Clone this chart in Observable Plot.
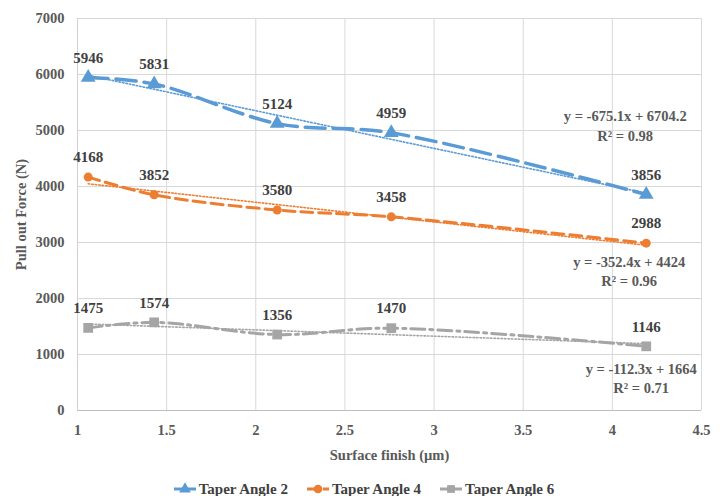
<!DOCTYPE html>
<html>
<head>
<meta charset="utf-8">
<script src="https://cdn.jsdelivr.net/npm/d3@7"></script>
<script src="https://cdn.jsdelivr.net/npm/@observablehq/plot@0.6"></script>
<style>
  html, body { margin: 0; padding: 0; background: #fff; }
  #chart { width: 727px; }
  #legend { display: flex; justify-content: center; gap: 18px; height: 24px; padding-top: 7px; align-items: center;
    font-family: "Liberation Serif", "Times New Roman", serif; font-weight: bold; font-size: 15px; color: #404040; }
  #legend .item { display: flex; align-items: center; gap: 2px; }
</style>
</head>
<body>
<div id="chart"></div>
<div id="legend"></div>
<script>
// ---- data ----
const surfaceFinish = [1.06, 1.43, 2.12, 2.76, 4.19];
const taper2 = [5946, 5831, 5124, 4959, 3856];
const taper4 = [4168, 3852, 3580, 3458, 2988];
const taper6 = [1475, 1574, 1356, 1470, 1146];
const seriesNames = ["Taper Angle 2", "Taper Angle 4", "Taper Angle 6"];
const equations = ["y = -675.1x + 6704.2", "y = -352.4x + 4424", "y = -112.3x + 1664"];
const rSquared = ["R² = 0.98", "R² = 0.96", "R² = 0.71"];
const xTicks = [1, 1.5, 2, 2.5, 3, 3.5, 4, 4.5];
const xTickLabels = ["1", "1.5", "2", "2.5", "3", "3.5", "4", "4.5"];
const yTicks = [0, 1000, 2000, 3000, 4000, 5000, 6000, 7000];

// ---- styles ----
const FONT = '"Liberation Serif", "Times New Roman", serif';
const colors = ["#5b9bd5", "#ed7d31", "#a5a5a5"];
const symbols = ["triangle", "circle", "square"];
const dashes = ["20,8", "12,6", "14,5,3,5"];
const widths = [3.5, 3, 3];
const eqOffsets = [[-21, -78, -58], [-17, 19, 38], [-5, 23, 42]];

const allValues = [taper2, taper4, taper6];
const rows = [];
allValues.forEach((vals, i) => vals.forEach((v, j) => rows.push({ series: seriesNames[i], idx: i, x: surfaceFinish[j], y: v })));

const marks = [
  Plot.gridY(yTicks, { stroke: "#d9d9d9", strokeOpacity: 1, strokeWidth: 1 }),
  Plot.gridX(xTicks, { stroke: "#d9d9d9", strokeOpacity: 1, strokeWidth: 1 }),
  Plot.ruleY([0], { stroke: "#bfbfbf" }),
  Plot.ruleX([1], { stroke: "#d0d0d0" }),
  Plot.axisY(yTicks, { tickSize: 0, tickPadding: 13, tickFormat: d => String(d), fontSize: 14.5, fontWeight: "bold", fill: "#595959", fontFamily: FONT,
    label: "Pull out Force (N)", labelAnchor: "center", labelOffset: 62, labelArrow: "none" }),
  Plot.axisX(xTicks, { tickSize: 0, tickPadding: 14, tickFormat: d => xTickLabels[xTicks.indexOf(d)], fontSize: 14.5, fontWeight: "bold", fill: "#595959", fontFamily: FONT,
    label: "Surface finish (µm)", labelAnchor: "center", labelOffset: 49, labelArrow: "none" })
];

seriesNames.forEach((name, i) => {
  const data = rows.filter(r => r.idx === i);
  const last = data[data.length - 1];
  marks.push(
    Plot.linearRegressionY(data, { x: "x", y: "y", stroke: colors[i], strokeWidth: 1.6, strokeDasharray: "1.5,2", ci: 0 }),
    Plot.line(data, { x: "x", y: "y", stroke: colors[i], strokeWidth: widths[i], strokeDasharray: dashes[i], curve: "catmull-rom" }),
    Plot.dot(data, { x: "x", y: "y", fill: colors[i], symbol: () => symbols[i], r: i === 1 ? 4.5 : 5.5, stroke: "none" }),
    Plot.text(data, { x: "x", y: "y", text: d => String(d.y), dy: -19.5, lineAnchor: "middle", fontSize: 15, fontWeight: "bold", fill: "#404040", fontFamily: FONT }),
    Plot.text([last], { x: "x", y: "y", text: () => equations[i], dx: eqOffsets[i][0], dy: eqOffsets[i][1], lineAnchor: "middle", fontSize: 14.5, fontWeight: "bold", fill: "#595959", fontFamily: FONT }),
    Plot.text([last], { x: "x", y: "y", text: () => rSquared[i], dx: eqOffsets[i][0], dy: eqOffsets[i][2], lineAnchor: "middle", fontSize: 14.5, fontWeight: "bold", fill: "#595959", fontFamily: FONT })
  );
});

const chart = Plot.plot({
  width: 727,
  height: 470,
  marginLeft: 77,
  marginRight: 26,
  marginTop: 18,
  marginBottom: 60,
  style: { fontFamily: FONT, background: "#fff", overflow: "visible" },
  x: { domain: [1, 4.5] },
  y: { domain: [0, 7000] },
  marks
});
document.getElementById("chart").appendChild(chart);

// legend
const legend = d3.select("#legend");
seriesNames.forEach((name, i) => {
  const item = legend.append("div").attr("class", "item");
  const svg = item.append("svg").attr("width", 24).attr("height", 14);
  svg.append("line").attr("x1", 1).attr("x2", 23).attr("y1", 7).attr("y2", 7)
    .attr("stroke", colors[i]).attr("stroke-width", 3).attr("stroke-dasharray", i === 1 ? "8,3,2,3" : null);
  const sym = d3.symbol().type({ triangle: d3.symbolTriangle, circle: d3.symbolCircle, square: d3.symbolSquare }[symbols[i]]).size(60);
  svg.append("path").attr("d", sym()).attr("transform", "translate(12,7)").attr("fill", colors[i]);
  item.append("span").text(name);
});
</script>
</body>
</html>
